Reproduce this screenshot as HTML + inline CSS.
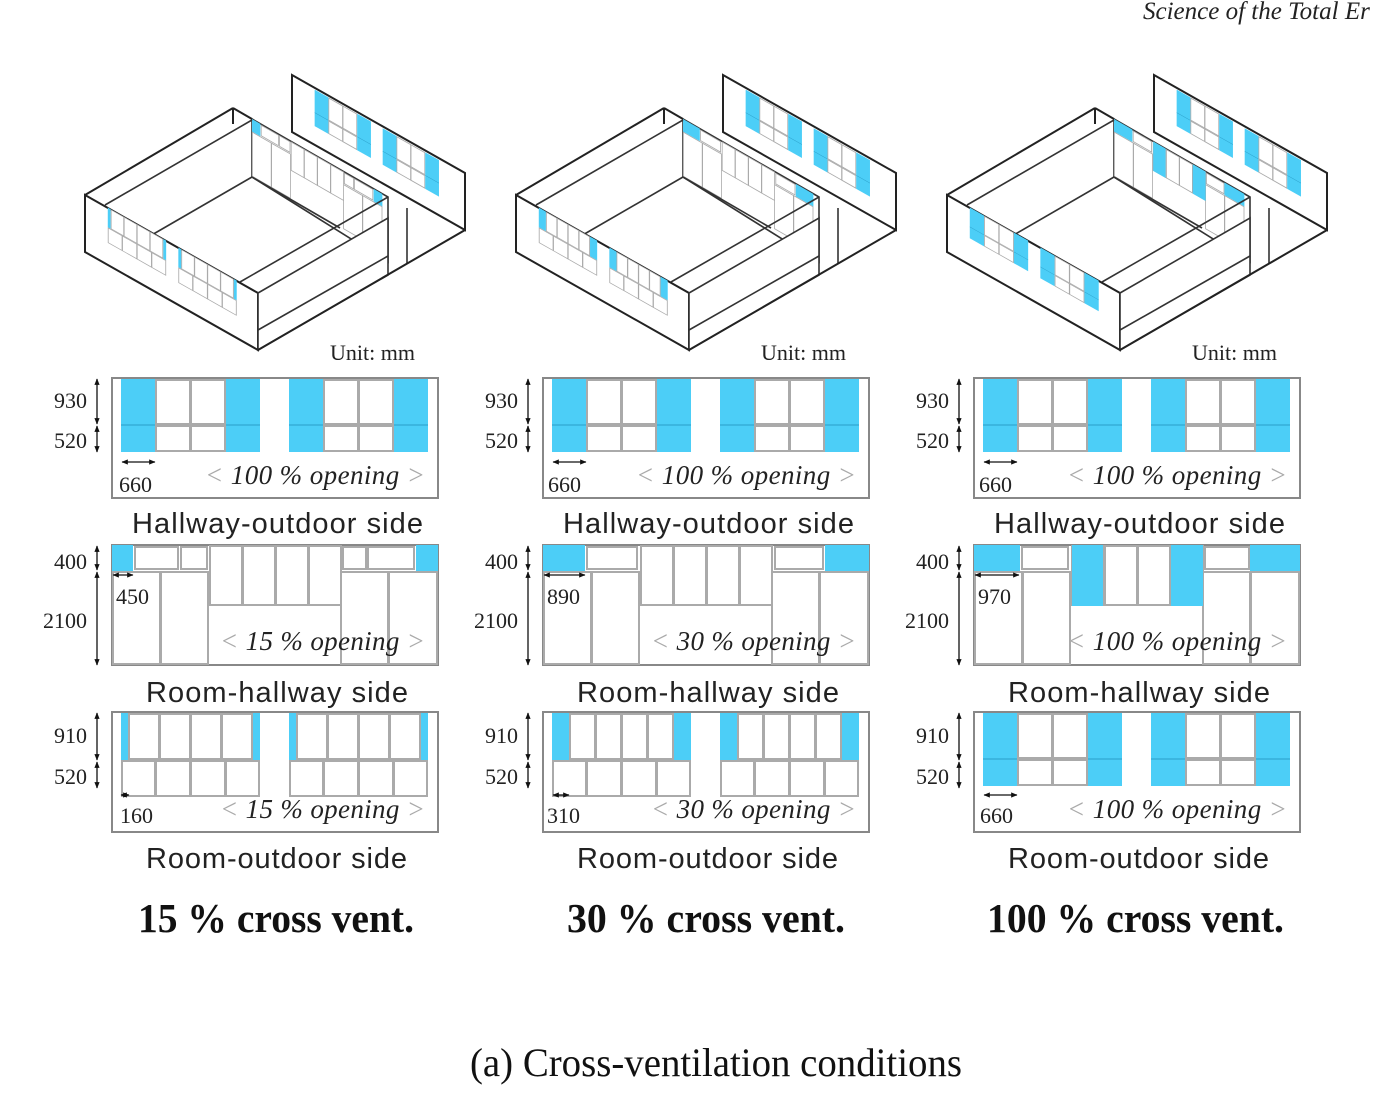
<!DOCTYPE html>
<html><head><meta charset="utf-8"><style>
html,body{margin:0;padding:0;background:#fff}
svg{display:block}
.n{font-family:"Liberation Serif",serif;font-size:22px;fill:#222}
.op{font-family:"Liberation Serif",serif;font-style:italic;font-size:27px;fill:#222}
.g{fill:#aaa}
.t{font-family:"Liberation Sans",sans-serif;font-size:29px;fill:#222}
.b{font-family:"Liberation Serif",serif;font-weight:bold;font-size:41px;fill:#111}
</style></head><body>
<svg width="1380" height="1100" viewBox="0 0 1380 1100" xmlns="http://www.w3.org/2000/svg">
<defs>
<marker id="ah" viewBox="0 0 10 10" refX="9" refY="5" markerWidth="5" markerHeight="5" orient="auto-start-reverse"><path d="M0,1 L10,5 L0,9 z" fill="#111"/></marker>
<g id="gA">
 <rect x="0" y="1" width="34" height="73" fill="#4ccef7"/>
 <line x1="0" y1="47" x2="34" y2="47" stroke="#2a9ec8" stroke-width="1"/>
 <rect x="35" y="2" width="34" height="44" fill="#fff" stroke="#aaa" stroke-width="2"/>
 <rect x="70" y="2" width="34" height="44" fill="#fff" stroke="#aaa" stroke-width="2"/>
 <rect x="35" y="48" width="34" height="25" fill="#fff" stroke="#aaa" stroke-width="2"/>
 <rect x="70" y="48" width="34" height="25" fill="#fff" stroke="#aaa" stroke-width="2"/>
 <rect x="105" y="1" width="34" height="73" fill="#4ccef7"/>
 <line x1="105" y1="47" x2="139" y2="47" stroke="#2a9ec8" stroke-width="1"/>
</g>
<g id="winA"><use href="#gA" x="9"/><use href="#gA" x="177"/></g>
<g id="gC1">
 <rect x="0" y="1" width="7" height="47" fill="#4ccef7"/>
 <rect x="132" y="1" width="7" height="47" fill="#4ccef7"/>
 <rect x="8" y="2" width="30" height="45" fill="#fff" stroke="#aaa" stroke-width="2"/>
 <rect x="39" y="2" width="30" height="45" fill="#fff" stroke="#aaa" stroke-width="2"/>
 <rect x="70" y="2" width="30" height="45" fill="#fff" stroke="#aaa" stroke-width="2"/>
 <rect x="101" y="2" width="30" height="45" fill="#fff" stroke="#aaa" stroke-width="2"/>
 <rect x="1" y="49" width="33" height="35" fill="#fff" stroke="#aaa" stroke-width="2"/>
 <rect x="35" y="49" width="34" height="35" fill="#fff" stroke="#aaa" stroke-width="2"/>
 <rect x="70" y="49" width="34" height="35" fill="#fff" stroke="#aaa" stroke-width="2"/>
 <rect x="105" y="49" width="33" height="35" fill="#fff" stroke="#aaa" stroke-width="2"/>
</g>
<g id="gC2">
 <rect x="0" y="1" width="17" height="47" fill="#4ccef7"/>
 <rect x="122" y="1" width="17" height="47" fill="#4ccef7"/>
 <rect x="18" y="2" width="25" height="45" fill="#fff" stroke="#aaa" stroke-width="2"/>
 <rect x="44" y="2" width="25" height="45" fill="#fff" stroke="#aaa" stroke-width="2"/>
 <rect x="70" y="2" width="25" height="45" fill="#fff" stroke="#aaa" stroke-width="2"/>
 <rect x="96" y="2" width="25" height="45" fill="#fff" stroke="#aaa" stroke-width="2"/>
 <rect x="1" y="49" width="33" height="35" fill="#fff" stroke="#aaa" stroke-width="2"/>
 <rect x="35" y="49" width="34" height="35" fill="#fff" stroke="#aaa" stroke-width="2"/>
 <rect x="70" y="49" width="34" height="35" fill="#fff" stroke="#aaa" stroke-width="2"/>
 <rect x="105" y="49" width="33" height="35" fill="#fff" stroke="#aaa" stroke-width="2"/>
</g>
<g id="winC1"><use href="#gC1" x="9"/><use href="#gC1" x="177"/></g>
<g id="winC2"><use href="#gC2" x="9"/><use href="#gC2" x="177"/></g>
<g id="bBase">
 <rect x="1" y="27" width="47" height="92" fill="#fff" stroke="#aaa" stroke-width="2"/>
 <rect x="49" y="27" width="47" height="92" fill="#fff" stroke="#aaa" stroke-width="2"/>
 <rect x="229" y="27" width="47" height="92" fill="#fff" stroke="#aaa" stroke-width="2"/>
 <rect x="277" y="27" width="48" height="92" fill="#fff" stroke="#aaa" stroke-width="2"/>
 <rect x="98" y="1" width="32" height="59" fill="#fff" stroke="#aaa" stroke-width="2"/>
 <rect x="131" y="1" width="32" height="59" fill="#fff" stroke="#aaa" stroke-width="2"/>
 <rect x="164" y="1" width="32" height="59" fill="#fff" stroke="#aaa" stroke-width="2"/>
 <rect x="197" y="1" width="32" height="59" fill="#fff" stroke="#aaa" stroke-width="2"/>
</g>
<g id="winB1"><use href="#bBase"/>
 <rect x="0" y="0" width="21" height="26" fill="#4ccef7"/>
 <rect x="23" y="2" width="43" height="22" fill="#fff" stroke="#aaa" stroke-width="2"/>
 <rect x="69" y="2" width="26" height="22" fill="#fff" stroke="#aaa" stroke-width="2"/>
 <rect x="231" y="2" width="23" height="22" fill="#fff" stroke="#aaa" stroke-width="2"/>
 <rect x="256" y="2" width="46" height="22" fill="#fff" stroke="#aaa" stroke-width="2"/>
 <rect x="304" y="0" width="22" height="26" fill="#4ccef7"/>
</g>
<g id="winB2"><use href="#bBase"/>
 <rect x="0" y="0" width="42" height="26" fill="#4ccef7"/>
 <rect x="44" y="2" width="50" height="22" fill="#fff" stroke="#aaa" stroke-width="2"/>
 <rect x="232" y="2" width="48" height="22" fill="#fff" stroke="#aaa" stroke-width="2"/>
 <rect x="282" y="0" width="44" height="26" fill="#4ccef7"/>
</g>
<g id="winB3"><use href="#bBase"/>
 <rect x="0" y="0" width="46" height="26" fill="#4ccef7"/>
 <rect x="48" y="2" width="46" height="22" fill="#fff" stroke="#aaa" stroke-width="2"/>
 <rect x="98" y="0" width="31" height="61" fill="#4ccef7"/>
 <rect x="197" y="0" width="32" height="61" fill="#4ccef7"/>
 <rect x="231" y="2" width="44" height="22" fill="#fff" stroke="#aaa" stroke-width="2"/>
 <rect x="276" y="0" width="50" height="26" fill="#4ccef7"/>
</g>
<polygon id="hw" points="292,75 465,173 465,230 292,132" fill="#fff" stroke="#222" stroke-width="2"/>
<g id="rhw">
 <polygon points="252,119 388,197 388,262 252,177" fill="#fff" stroke="#333" stroke-width="1.6"/>
 <line x1="233" y1="108" x2="252" y2="119" stroke="#222" stroke-width="2"/>
 <line x1="233" y1="108" x2="233" y2="124" stroke="#222" stroke-width="2"/>
</g>
<g id="floor" fill="none" stroke="#333" stroke-width="1.6">
 <line x1="85" y1="195" x2="233" y2="108" stroke="#222" stroke-width="2"/>
 <line x1="105" y1="205" x2="252" y2="120"/>
 <line x1="252" y1="177" x2="150" y2="236"/>
 <line x1="252" y1="177" x2="340" y2="228"/>
 <line x1="240" y1="282" x2="388" y2="197"/>
 <line x1="407" y1="208" x2="407" y2="264"/>
</g>
<polygon id="fw" points="85,195 258,293 258,350 85,252" fill="#fff" stroke="#222" stroke-width="2"/>
<g id="rw"><polygon points="258,293 388,218 388,275 258,350" fill="#fff" stroke="#333" stroke-width="1.6"/>
 <line x1="258" y1="330" x2="388" y2="256" stroke="#333" stroke-width="1.6"/>
 <polyline points="258,350 465,230 465,173" fill="none" stroke="#222" stroke-width="2"/></g>
</defs>

<text x="1143" y="19" font-family="'Liberation Serif',serif" font-style="italic" font-size="25" fill="#222">Science of the Total Er</text>

<g>
 <use href="#hw"/>
 <use href="#winA" transform="matrix(0.405,0.23,0,0.5,311,87)"/>
 <use href="#rhw"/>
 <use href="#winB1" transform="matrix(0.40,0.23,0,0.48,252,119)"/>
 <use href="#floor"/>
 <use href="#fw"/>
 <use href="#winC1" transform="matrix(0.42,0.238,0,0.42,104,205)"/>
 <use href="#rw"/>
</g>
<g transform="translate(431,0)">
 <use href="#hw"/>
 <use href="#winA" transform="matrix(0.405,0.23,0,0.5,311,87)"/>
 <use href="#rhw"/>
 <use href="#winB2" transform="matrix(0.40,0.23,0,0.48,252,119)"/>
 <use href="#floor"/>
 <use href="#fw"/>
 <use href="#winC2" transform="matrix(0.42,0.238,0,0.42,104,205)"/>
 <use href="#rw"/>
</g>
<g transform="translate(862,0)">
 <use href="#hw"/>
 <use href="#winA" transform="matrix(0.405,0.23,0,0.5,311,87)"/>
 <use href="#rhw"/>
 <use href="#winB3" transform="matrix(0.40,0.23,0,0.48,252,119)"/>
 <use href="#floor"/>
 <use href="#fw"/>
 <use href="#winA" transform="matrix(0.42,0.238,0,0.42,104,205)"/>
 <use href="#rw"/>
</g>

<g id="elev">
 <g stroke="#111" stroke-width="1.3" marker-start="url(#ah)" marker-end="url(#ah)">
  <line x1="97" y1="379" x2="97" y2="424"/><line x1="97" y1="426" x2="97" y2="452"/>
  <line x1="97" y1="546" x2="97" y2="570"/><line x1="97" y1="572" x2="97" y2="665"/>
  <line x1="97" y1="713" x2="97" y2="760"/><line x1="97" y1="762" x2="97" y2="788"/>
 </g>
 <g class="n" text-anchor="end">
  <text x="87" y="408">930</text><text x="87" y="448">520</text>
  <text x="87" y="569">400</text><text x="87" y="628">2100</text>
  <text x="87" y="743">910</text><text x="87" y="784">520</text>
 </g>
</g>
<use href="#elev" x="431"/><use href="#elev" x="862"/>

<g>
 <rect x="112" y="378" width="326" height="120" fill="#fff" stroke="#888" stroke-width="2"/>
 <use href="#winA" x="112" y="378"/>
 <rect x="112" y="545" width="326" height="120" fill="#fff" stroke="#888" stroke-width="2"/>
 <use href="#winB1" x="112" y="545"/>
 <rect x="112" y="712" width="326" height="120" fill="#fff" stroke="#888" stroke-width="2"/>
 <use href="#winC1" x="112" y="712"/>
</g>
<g transform="translate(431,0)">
 <rect x="112" y="378" width="326" height="120" fill="#fff" stroke="#888" stroke-width="2"/>
 <use href="#winA" x="112" y="378"/>
 <rect x="112" y="545" width="326" height="120" fill="#fff" stroke="#888" stroke-width="2"/>
 <use href="#winB2" x="112" y="545"/>
 <rect x="112" y="712" width="326" height="120" fill="#fff" stroke="#888" stroke-width="2"/>
 <use href="#winC2" x="112" y="712"/>
</g>
<g transform="translate(862,0)">
 <rect x="112" y="378" width="326" height="120" fill="#fff" stroke="#888" stroke-width="2"/>
 <use href="#winA" x="112" y="378"/>
 <rect x="112" y="545" width="326" height="120" fill="#fff" stroke="#888" stroke-width="2"/>
 <use href="#winB3" x="112" y="545"/>
 <rect x="112" y="712" width="326" height="120" fill="#fff" stroke="#888" stroke-width="2"/>
 <use href="#winA" x="112" y="712"/>
</g>

<g stroke="#111" stroke-width="1.3" marker-start="url(#ah)" marker-end="url(#ah)">
 <line x1="122" y1="462" x2="155" y2="462"/><line x1="113" y1="575" x2="133" y2="575"/><line x1="121" y1="795" x2="129" y2="795"/>
 <line x1="553" y1="462" x2="586" y2="462"/><line x1="544" y1="575" x2="585" y2="575"/><line x1="553" y1="795" x2="569" y2="795"/>
 <line x1="984" y1="462" x2="1017" y2="462"/><line x1="975" y1="575" x2="1019" y2="575"/><line x1="984" y1="795" x2="1017" y2="795"/>
</g>
<g class="n">
 <text x="119" y="492">660</text><text x="116" y="604">450</text><text x="120" y="823">160</text>
 <text x="548" y="492">660</text><text x="547" y="604">890</text><text x="547" y="823">310</text>
 <text x="979" y="492">660</text><text x="978" y="604">970</text><text x="980" y="823">660</text>
</g>
<g class="op">
 <text x="205" y="484" textLength="220"><tspan class="g">&lt;</tspan> 100 % opening <tspan class="g">&gt;</tspan></text>
 <text x="220" y="650" textLength="205"><tspan class="g">&lt;</tspan> 15 % opening <tspan class="g">&gt;</tspan></text>
 <text x="220" y="818" textLength="205"><tspan class="g">&lt;</tspan> 15 % opening <tspan class="g">&gt;</tspan></text>
 <text x="636" y="484" textLength="220"><tspan class="g">&lt;</tspan> 100 % opening <tspan class="g">&gt;</tspan></text>
 <text x="651" y="650" textLength="205"><tspan class="g">&lt;</tspan> 30 % opening <tspan class="g">&gt;</tspan></text>
 <text x="651" y="818" textLength="205"><tspan class="g">&lt;</tspan> 30 % opening <tspan class="g">&gt;</tspan></text>
 <text x="1067" y="484" textLength="220"><tspan class="g">&lt;</tspan> 100 % opening <tspan class="g">&gt;</tspan></text>
 <text x="1067" y="650" textLength="220"><tspan class="g">&lt;</tspan> 100 % opening <tspan class="g">&gt;</tspan></text>
 <text x="1067" y="818" textLength="220"><tspan class="g">&lt;</tspan> 100 % opening <tspan class="g">&gt;</tspan></text>
</g>
<g class="n" font-size="26">
 <text x="330" y="360">Unit: mm</text>
 <text x="761" y="360">Unit: mm</text>
 <text x="1192" y="360">Unit: mm</text>
</g>
<g class="t">
 <text x="132" y="533" textLength="291">Hallway-outdoor side</text>
 <text x="146" y="702" textLength="262">Room-hallway side</text>
 <text x="146" y="868" textLength="261">Room-outdoor side</text>
 <text x="563" y="533" textLength="291">Hallway-outdoor side</text>
 <text x="577" y="702" textLength="262">Room-hallway side</text>
 <text x="577" y="868" textLength="261">Room-outdoor side</text>
 <text x="994" y="533" textLength="291">Hallway-outdoor side</text>
 <text x="1008" y="702" textLength="262">Room-hallway side</text>
 <text x="1008" y="868" textLength="261">Room-outdoor side</text>
</g>
<g class="b">
 <text x="138" y="932" textLength="276" lengthAdjust="spacingAndGlyphs">15 % cross vent.</text>
 <text x="567" y="932" textLength="278" lengthAdjust="spacingAndGlyphs">30 % cross vent.</text>
 <text x="987" y="932" textLength="297" lengthAdjust="spacingAndGlyphs">100 % cross vent.</text>
</g>
<text x="470" y="1076" font-family="'Liberation Serif',serif" font-size="40" fill="#111" textLength="492" lengthAdjust="spacingAndGlyphs">(a)  Cross-ventilation conditions</text>
</svg>
</body></html>
